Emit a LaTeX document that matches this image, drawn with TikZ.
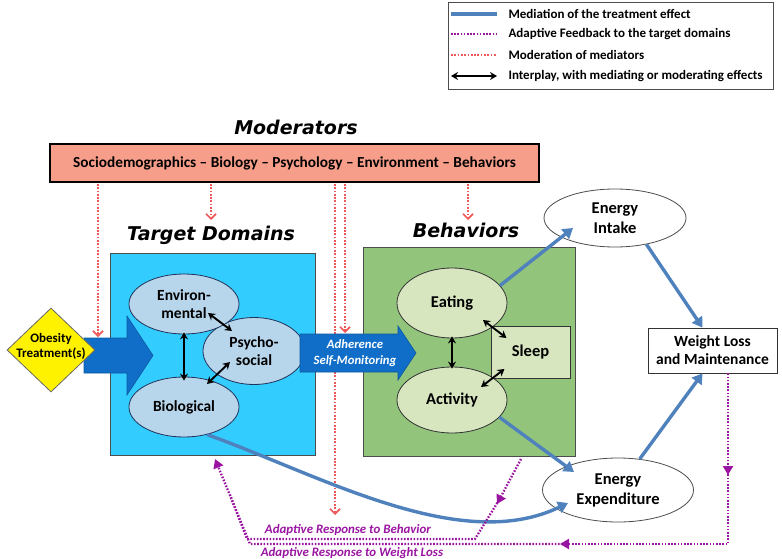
\documentclass[tikz,border=0pt]{standalone}
\usepackage{fontspec}
\setmainfont{Carlito}
\newfontfamily\headfont{DejaVu Sans}
\usetikzlibrary{shapes.geometric,arrows.meta,calc}

\definecolor{modsalmon}{RGB}{247,158,138}
\definecolor{domcyan}{RGB}{51,204,255}
\definecolor{domlight}{RGB}{183,214,236}
\definecolor{behgreen}{RGB}{146,196,124}
\definecolor{behlight}{RGB}{216,230,192}
\definecolor{navyline}{RGB}{30,50,90}
\definecolor{medblue}{RGB}{79,129,189}
\definecolor{bigblue}{RGB}{16,110,200}
\definecolor{fbpurple}{RGB}{153,20,160}
\definecolor{modred}{RGB}{240,88,88}

\tikzset{
  headline/.style={font=\headfont\bfseries\itshape\fontsize{19}{21}\selectfont},
  domtext/.style={font=\bfseries\fontsize{15.5}{18}\selectfont, align=center},
  boxtext/.style={font=\bfseries\fontsize{16.5}{20}\selectfont, align=center},
  domell/.style={ellipse, draw=navyline, fill=domlight, line width=0.8pt, inner sep=0pt, domtext},
  behell/.style={ellipse, draw=black!80, fill=behlight, line width=0.8pt, inner sep=0pt, boxtext},
  outell/.style={ellipse, draw=black!70, fill=white, line width=0.8pt, inner sep=0pt, boxtext},
  mediate/.style={medblue, line width=3.4pt, -{Triangle[length=10pt,width=12pt]}},
  moderate/.style={modred, line width=2.1pt, dash pattern=on 1.7pt off 1.6pt,
    -{Straight Barb[length=5pt,width=10pt,line width=1.7pt]}},
  feedback/.style={fbpurple, line width=2.3pt, dash pattern=on 1.6pt off 1.6pt},
  fbtip/.style={-{Triangle[length=9pt,width=10pt]}},
  interplay/.style={line width=1.9pt, {Stealth[length=7pt,width=8pt]}-{Stealth[length=7pt,width=8pt]}},
  legtext/.style={font=\bfseries\fontsize{13}{15}\selectfont, anchor=west},
  fbtext/.style={fbpurple, font=\bfseries\itshape\fontsize{12.9}{15}\selectfont},
}

\begin{document}
\begin{tikzpicture}[x=1pt,y=-1pt]
  \useasboundingbox (0,0) rectangle (782,559);

  % legend
  \node[draw=black!70, line width=0.8pt, minimum width=325pt, minimum height=87pt, inner sep=0pt] (legend) at (610.5,45.5) {};
  \node[legtext] (lg1) at (505,14) {Mediation of the treatment effect};
  \node[legtext] (lg2) at (505,34) {Adaptive Feedback to the target domains};
  \node[legtext] (lg3) at (505,55) {Moderation of mediators};
  \node[legtext] (lg4) at (505,76) {Interplay, with mediating or moderating effects};
  \draw[mediate,-] (451,14) -- ([xshift=-8pt]lg1.west);
  \draw[feedback] (451,34) -- ([xshift=-8pt]lg2.west);
  \draw[moderate,-] (451,55) -- ([xshift=-8pt]lg3.west);
  \draw[interplay] (451,76) -- ([xshift=-8pt]lg4.west);

  % moderators
  \node[headline] (modtitle) at (296,127) {Moderators};
  \node[draw, line width=1.8pt, fill=modsalmon, minimum width=489pt, minimum height=38pt, inner sep=0pt,
    font=\bfseries\fontsize{15.3}{17}\selectfont] (mods) at (294.5,163)
    {Sociodemographics -- Biology -- Psychology -- Environment -- Behaviors};

  % target domains and behaviors
  \node[headline] (tdtitle) at (211,235) {Target Domains};
  \node[headline] (bhtitle) at (466,230) {Behaviors};
  \node[draw=black!70, line width=0.8pt, fill=domcyan, minimum width=205pt, minimum height=202pt, inner sep=0pt] (td) at (212.5,354) {};
  \node[draw=black!70, line width=0.8pt, fill=behgreen, minimum width=212pt, minimum height=209pt, inner sep=0pt] (bh) at (469,351.5) {};

  % moderation of mediators
  \coordinate (r1) at (98,337);
  \coordinate (r2) at (211,220);
  \coordinate (r3) at (335,515);
  \coordinate (r4) at (345,333);
  \coordinate (r5) at (468,220);
  \draw[moderate, shorten <=1pt] (mods.south -| r1) -- (r1);
  \draw[moderate, shorten <=1pt] (mods.south -| r2) -- (r2);
  \draw[moderate, shorten <=1pt] (mods.south -| r3) -- (r3);
  \draw[moderate, shorten <=1pt] (mods.south -| r4) -- (r4);
  \draw[moderate, shorten <=1pt] (mods.south -| r5) -- (r5);

  % treatment
  \filldraw[fill=bigblue, draw=bigblue!80!black, line width=0.6pt] (84,338)
    -- ++(43,0) -- ++(0,-22) -- ++(26,39.5) -- ++(-26,39.5) -- ++(0,-22) -- ++(-43,0) -- cycle;
  \node[diamond, draw=black!60, line width=0.8pt, fill=yellow, minimum width=88pt, minimum height=84pt, inner sep=-7pt,
    text depth=10pt, font=\bfseries\fontsize{13}{15}\selectfont, align=center] (obes) at (51,350) {Obesity\\Treatment(s)};

  % target domains
  \node[domell, minimum width=102pt, minimum height=67pt] (psy) at (254,351) {Psycho-\\social};
  \node[domell, minimum width=110pt, minimum height=60pt] (env) at (184,304) {Environ-\\mental};
  \node[domell, minimum width=110pt, minimum height=60pt] (bio) at (184,407) {Biological};
  \draw[interplay] ([yshift=2pt]env.south) -- ([yshift=-4pt]bio.north);
  \draw[interplay] ($(env.center)+(24,9)$) -- ($(psy.center)+(-22,-20)$);
  \draw[interplay] ($(bio.center)+(23,-23)$) -- ($(psy.center)+(-24,11)$);

  % adherence
  \filldraw[fill=bigblue, draw=bigblue!80!black, line width=0.6pt] (300,334)
    -- ++(98,0) -- ++(0,-8) -- ++(18,27) -- ++(-18,27) -- ++(0,-8) -- ++(-98,0) -- cycle;
  \node[white, font=\bfseries\itshape\fontsize{12.7}{16}\selectfont, align=center] (adh) at (355,353) {Adherence\\Self-Monitoring};

  % behaviors
  \node[behell, minimum width=110pt, minimum height=70pt] (eat) at (452,303) {Eating};
  \node[behell, minimum width=110pt, minimum height=66pt] (act) at (452,400) {Activity};
  \node[draw=black!80, line width=0.8pt, fill=behlight, minimum width=79pt, minimum height=52pt, inner sep=0pt, boxtext] (sleep) at (530.5,352) {Sleep};
  \draw[interplay] ([yshift=2pt]eat.south) -- ([yshift=-2pt]act.north);
  \draw[interplay] ($(eat.center)+(31,17)$) -- ($(sleep.center)+(-24,-14)$);
  \draw[interplay] ($(act.center)+(29,-13)$) -- ($(sleep.center)+(-26,17)$);

  % outcomes
  \node[outell, minimum width=142pt, minimum height=58pt] (ei) at (615,218) {Energy\\Intake};
  \node[outell, minimum width=151pt, minimum height=64pt] (ee) at (618,490) {Energy\\Expenditure};
  \node[draw=black!80, line width=0.8pt, fill=white, minimum width=129pt, minimum height=45pt, inner sep=0pt, domtext] (wl) at (712.5,350.5) {Weight Loss\\and Maintenance};

  % mediation
  \draw[mediate] (eat.20) -- ($(ei.center)+(-42,10)$);
  \draw[mediate] (ei.-40) -- ([xshift=-10pt]wl.north);
  \draw[mediate] (act.-20) -- ($(ee.center)+(-44,-18)$);
  \draw[mediate] (ee.55) -- ([xshift=-10pt]wl.south);
  \draw[mediate] (bio.-50) .. controls (320,475) and (460,555) .. ($(ee.center)+(-50,13)$);

  % adaptive feedback
  \coordinate (fbtop) at (215,459);
  \coordinate (wlout) at ([xshift=15.5pt]wl.south);
  \coordinate (bhout) at (521,459);
  \draw[feedback, fbtip] (wlout) -- (728,475);
  \draw[feedback, fbtip] (728,468) -- (728,544) -- (560,544);
  \draw[feedback, fbtip] (566,544) -- (250,544) -- (fbtop);
  \draw[feedback, fbtip] (bhout) -- (497,504);
  \draw[feedback] (499,500) -- (475,539) -- (247,539) -- (230,495);
  \node[fbtext] (arb) at (348,530) {Adaptive Response to Behavior};
  \node[fbtext] (arw) at (352,553) {Adaptive Response to Weight Loss};
\end{tikzpicture}
\end{document}
